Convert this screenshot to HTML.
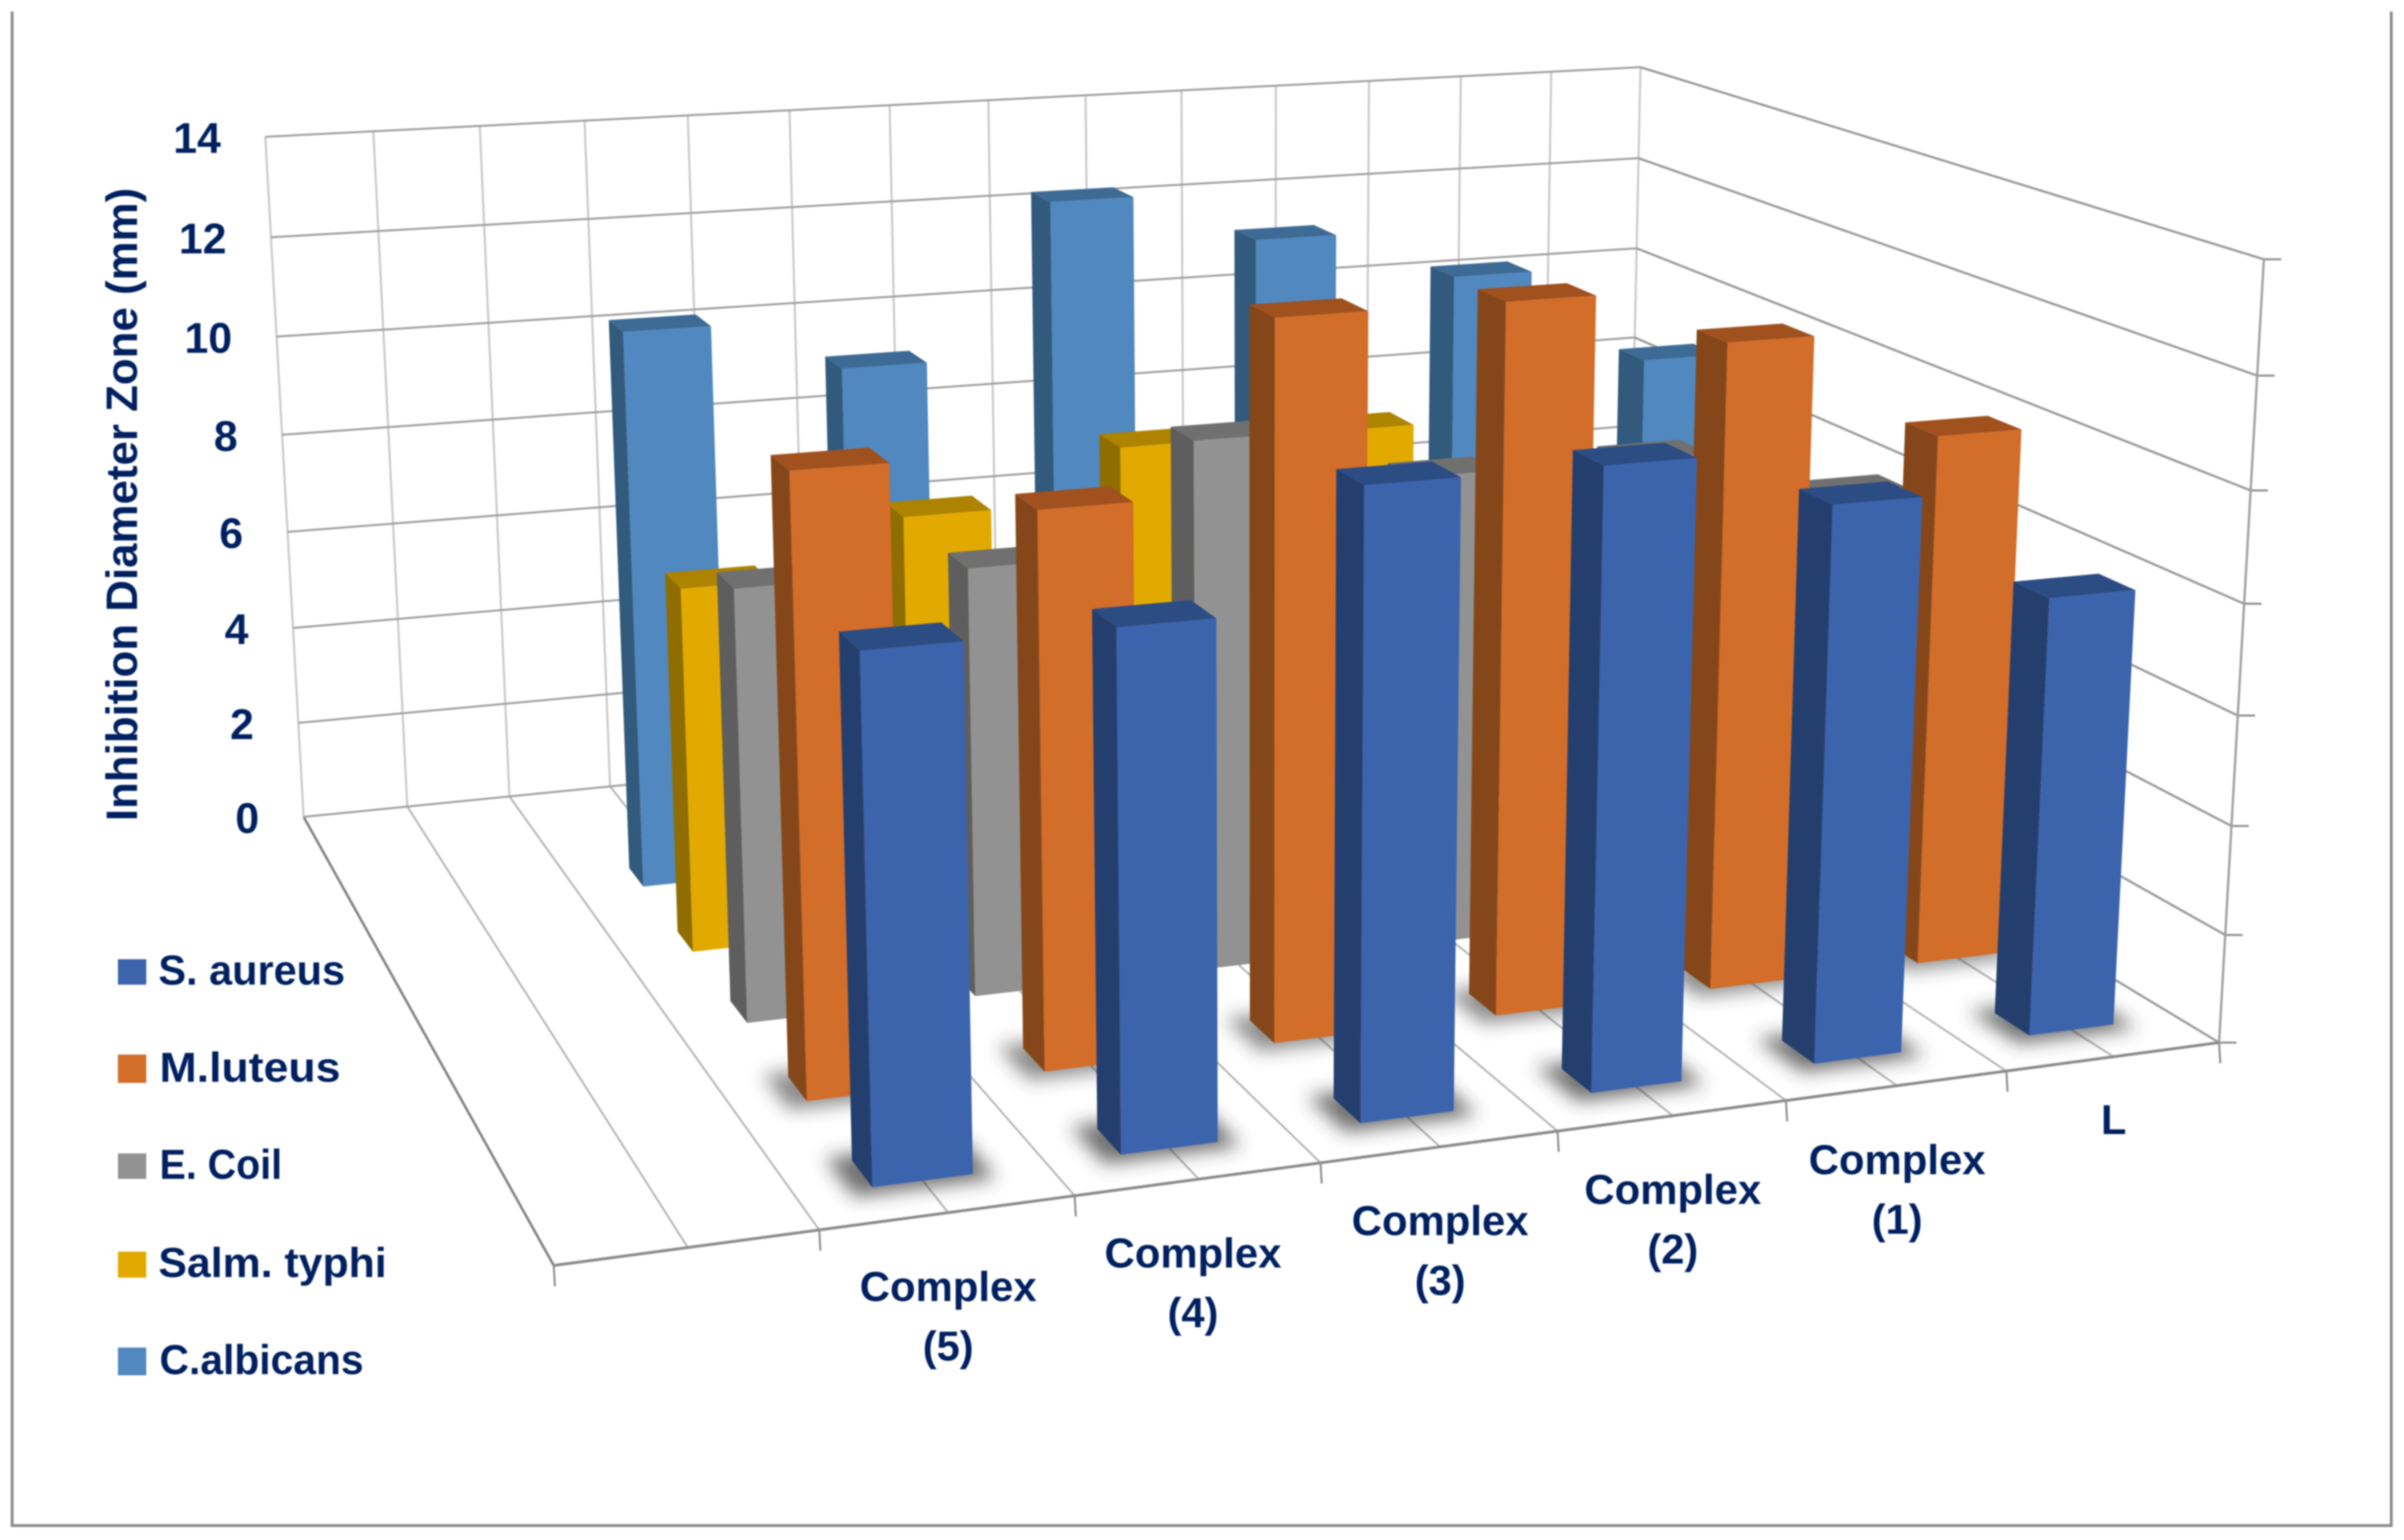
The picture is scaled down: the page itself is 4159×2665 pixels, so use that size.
<!DOCTYPE html>
<html lang="en">
<head>
<meta charset="utf-8">
<title>Inhibition Diameter Zone 3D Bar Chart</title>
<style>
html,body{margin:0;padding:0;background:#fff;}
svg{display:block;filter:blur(1.2px);}
text{font-family:"Liberation Sans",sans-serif;font-weight:bold;fill:#002060;}
</style>
</head>
<body>
<svg id="chart" xmlns="http://www.w3.org/2000/svg" width="4159" height="2665" viewBox="0 0 4159 2665">
  <defs>
    <filter id="soft" x="-60%" y="-150%" width="220%" height="400%"><feGaussianBlur stdDeviation="16"/></filter>
  </defs>
  <rect x="0" y="0" width="4159" height="2665" fill="#ffffff"/>
  <path d="M21 20V2640H4137V20" fill="none" stroke="#8c8c8c" stroke-width="5"/>
  <g id="walls"></g>
  <g id="shadows"></g>
  <g id="bars"></g>
  <g id="yTicks"></g>
  <g id="xTicks"></g>
  <text transform="translate(237,1421) rotate(-90)" font-size="76" textLength="1096" lengthAdjust="spacingAndGlyphs">Inhibition Diameter Zone (mm)</text>
  <g>
    <g>
      <rect x="204" y="1660" width="49" height="44" fill="#3b64ad"/>
      <text x="274" y="1704" font-size="72" textLength="323" lengthAdjust="spacingAndGlyphs">S. aureus</text>
    </g>
    <g>
      <rect x="204" y="1825" width="49" height="49" fill="#d26d2a"/>
      <text x="276" y="1872" font-size="72" textLength="313" lengthAdjust="spacingAndGlyphs">M.luteus</text>
    </g>
    <g>
      <rect x="204" y="1996" width="49" height="44" fill="#929292"/>
      <text x="276" y="2040" font-size="72" textLength="212" lengthAdjust="spacingAndGlyphs">E. Coil</text>
    </g>
    <g>
      <rect x="204" y="2166" width="49" height="45" fill="#e2aa00"/>
      <text x="274" y="2210" font-size="72" textLength="395" lengthAdjust="spacingAndGlyphs">Salm. typhi</text>
    </g>
    <g>
      <rect x="204" y="2332" width="49" height="48" fill="#5088bf"/>
      <text x="276" y="2378" font-size="72" textLength="353" lengthAdjust="spacingAndGlyphs">C.albicans</text>
    </g>
  </g>
</svg>
<script>
// ---- chart data ----
const categoryLabels = [["Complex","(5)"],["Complex","(4)"],["Complex","(3)"],["Complex","(2)"],["Complex","(1)"],["L"]];
const yTickLabels = [0,2,4,6,8,10,12,14];
const sAureus   = [9, 9, 11, 11, 10, 8];
const mLuteus   = [11, 10, 13, 13, 12, 10];
const eCoil     = [8, 8, 10, 9, 9, 8];
const salmTyphi = [7, 8, 9, 9, 7, 7];
const cAlbicans = [11, 10, 13, 12, 11, 9];

// ---- axis calibration: [category position, depth, value, screen x, screen y] ----
const cameraAnchors = [
  [0,0,0,960,2187],[1,0,0,1418,2130],[2,0,0,1859,2070],[3,0,0,2284,2011],[4,0,0,2694,1959],[5,0,0,3088,1906],[6,0,0,3472,1855],[7,0,0,3838,1805],
  [0,1,14,458,236],[1,1,14,830,217],[2,1,14,1189,199.5],[3,1,14,1538,182],[4,1,14,1878,165],[5,1,14,2208,148.5],[6,1,14,2527,132.5],[7,1,14,2839,117],
  [0,1,12,469,410],[0,1,10,479.5,581],[0,1,8,490,753],[0,1,6,498,921],[0,1,4,506,1087],[0,1,2,516,1251],[0,1,0,525,1414],
  [7,0,14,3915,446],[7,0,12,3905,648],[7,0,10,3894,850],[7,0,8,3883,1046],[7,0,6,3872,1238],[7,0,4,3861,1429],[7,0,2,3850,1617],
  [7,1,12,2835,275],[7,1,10,2831,432],[7,1,8,2828,585],[7,1,0,2816,1180],[1,1,0,880,1380]
];
const seriesStyles = [
  {name:"s-aureus", front:"#3b64ad", side:"#243f6e", top:"#2c4c84", values:sAureus},
  {name:"m-luteus", front:"#d26d2a", side:"#85471a", top:"#a0511e", values:mLuteus},
  {name:"e-coil", front:"#929292", side:"#5e5e5e", top:"#707070", values:eCoil},
  {name:"salm-typhi", front:"#e2aa00", side:"#8f6d00", top:"#ad8300", values:salmTyphi},
  {name:"c-albicans", front:"#5088bf", side:"#315a7c", top:"#3d6b96", values:cAlbicans}
];
const SLOTS_U = 7, SLOTS_V = 6, MAX_H = 14;
const BAR_HALF_U = 0.2, BAR_HALF_V = 0.025;

// Fit the camera (3x4 projection) by least squares on normalised coordinates.
function fitCamera(anchors){
  const n = 11, A = [], b = [];
  for(let i=0;i<n;i++){A.push(new Array(n).fill(0));b.push(0);}
  function add(row,r){
    for(let i=0;i<n;i++){
      b[i]+=row[i]*r;
      for(let j=0;j<n;j++)A[i][j]+=row[i]*row[j];
    }
  }
  anchors.forEach(function(a){
    const X=a[0]/SLOTS_U,Y=a[1],Z=a[2]/MAX_H,x=a[3]/1000,y=a[4]/1000;
    add([X,Y,Z,1,0,0,0,0,-x*X,-x*Y,-x*Z],x);
    add([0,0,0,0,X,Y,Z,1,-y*X,-y*Y,-y*Z],y);
  });
  for(let c=0;c<n;c++){
    let p=c;
    for(let r=c+1;r<n;r++) if(Math.abs(A[r][c])>Math.abs(A[p][c])) p=r;
    const t=A[c];A[c]=A[p];A[p]=t;
    const s=b[c];b[c]=b[p];b[p]=s;
    for(let r=0;r<n;r++){
      if(r===c)continue;
      const f=A[r][c]/A[c][c];
      for(let k=c;k<n;k++)A[r][k]-=f*A[c][k];
      b[r]-=f*b[c];
    }
  }
  return b.map(function(v,i){return v/A[i][i];});
}
const cam = fitCamera(cameraAnchors);
function project(u,v,h){
  const X=u/SLOTS_U,Y=v,Z=h/MAX_H;
  const w=cam[8]*X+cam[9]*Y+cam[10]*Z+1;
  return [1000*(cam[0]*X+cam[1]*Y+cam[2]*Z+cam[3])/w, 1000*(cam[4]*X+cam[5]*Y+cam[6]*Z+cam[7])/w];
}
const SVGNS = "http://www.w3.org/2000/svg";
function mk(tag,parent){const e=document.createElementNS(SVGNS,tag);parent.appendChild(e);return e;}
function pts(list){return list.map(function(p){return p[0].toFixed(1)+","+p[1].toFixed(1);}).join(" ");}
function segment(parent,a,b,stroke,width){
  const l=mk("line",parent);
  l.setAttribute("x1",a[0].toFixed(1));l.setAttribute("y1",a[1].toFixed(1));
  l.setAttribute("x2",b[0].toFixed(1));l.setAttribute("y2",b[1].toFixed(1));
  l.setAttribute("stroke",stroke);l.setAttribute("stroke-width",width);
  return l;
}

// ---- walls and floor ----
const walls = document.getElementById("walls");
for(let u2=0;u2<=SLOTS_U*2;u2++){
  const u=u2/2;
  const vert=segment(walls,project(u,1,0),project(u,1,MAX_H),"#c8c8c8",3.5);
  
  
  const dark=(u2===0);
  const fl=segment(walls,project(u,0,0),project(u,1,0),dark?"#858585":"#b8b8b8",dark?4.5:3.5);
  
  
}
yTickLabels.forEach(function(val){
  const back=segment(walls,project(0,1,val),project(SLOTS_U,1,val),"#a0a0a0",3.5);
  
  
  const side=segment(walls,project(SLOTS_U,1,val),project(SLOTS_U,0,val),"#9c9c9c",4);
  
  
  const e=project(SLOTS_U,0,val);
  const tick=segment(walls,e,[e[0]+30,e[1]],"#8f8f8f",3.5);
  
  
});
const rightEdge=segment(walls,project(SLOTS_U,0,0),project(SLOTS_U,0,MAX_H),"#a0a0a0",4);


const frontEdge=segment(walls,project(0,0,0),project(SLOTS_U,0,0),"#8c8c8c",5);


for(let u=0;u<=SLOTS_U;u++){
  const f=project(u,0,0);
  const t=segment(walls,f,[f[0]+2,f[1]+36],"#8f8f8f",3.5);
  
  
}

// ---- bars, drawn from the back row to the front row ----
const barsGroup=document.getElementById("bars");
const shadowGroup=document.getElementById("shadows");
for(let r=seriesStyles.length-1;r>=0;r--){
  const s=seriesStyles[r];
  const vc=(r+0.5)/SLOTS_V;
  s.values.forEach(function(val,i){
    if(val<=0)return;
    const uc=i+1.5;
    const u0=uc-BAR_HALF_U,u1=uc+BAR_HALF_U,v0=vc-BAR_HALF_V,v1=vc+BAR_HALF_V;
    if(r<2){
      const sh=mk("polygon",shadowGroup);
      
      
      sh.setAttribute("points",pts([project(u0-0.09,v0-0.012,0),project(u1+0.07,v0-0.012,0),project(u1+0.07,v1+0.01,0),project(u0-0.09,v1+0.01,0)]));
      sh.setAttribute("fill","#2a2a2a");
      sh.setAttribute("opacity",r===0?"0.68":"0.55");
      sh.setAttribute("filter","url(#soft)");
    }
    const g=mk("g",barsGroup);
    
    
    g.setAttribute("data-series",s.name);
    g.setAttribute("data-category",categoryLabels[i].join(" "));
    const side=mk("polygon",g);
    
    
    side.setAttribute("points",pts([project(u0,v1,0),project(u0,v0,0),project(u0,v0,val),project(u0,v1,val)]));
    side.setAttribute("fill",s.side);
    const top=mk("polygon",g);
    
    
    top.setAttribute("points",pts([project(u0,v0,val),project(u1,v0,val),project(u1,v1,val),project(u0,v1,val)]));
    top.setAttribute("fill",s.top);
    const front=mk("polygon",g);
    
    
    front.setAttribute("points",pts([project(u0,v0,0),project(u1,v0,0),project(u1,v0,val),project(u0,v0,val)]));
    front.setAttribute("fill",s.front);
  });
}

// ---- axis labels ----
const yGroup=document.getElementById("yTicks");
yTickLabels.forEach(function(val){
  const p=project(0,1,val);
  const t=mk("text",yGroup);
  
  
  t.setAttribute("x",(p[0]-77).toFixed(1));
  t.setAttribute("y",(p[1]+28).toFixed(1));
  t.setAttribute("font-size","74");
  t.setAttribute("text-anchor","end");
  t.textContent=String(val);
});
const xGroup=document.getElementById("xTicks");
categoryLabels.forEach(function(lines,i){
  const p=project(i+1.5,0,0);
  const multi=lines.length>1;
  const nudge=(i===1)?-10:0;
  lines.forEach(function(line,k){
    const t=mk("text",xGroup);
    
    
    t.setAttribute("x",(p[0]+nudge).toFixed(1));
    t.setAttribute("y",(p[1]+(multi?153:134)+k*103).toFixed(1));
    t.setAttribute("font-size","72");
    t.setAttribute("text-anchor","middle");
    if(line==="Complex"){
      t.setAttribute("textLength","306");
      t.setAttribute("lengthAdjust","spacingAndGlyphs");
    }
    t.textContent=line;
  });
});
</script>
</body>
</html>
